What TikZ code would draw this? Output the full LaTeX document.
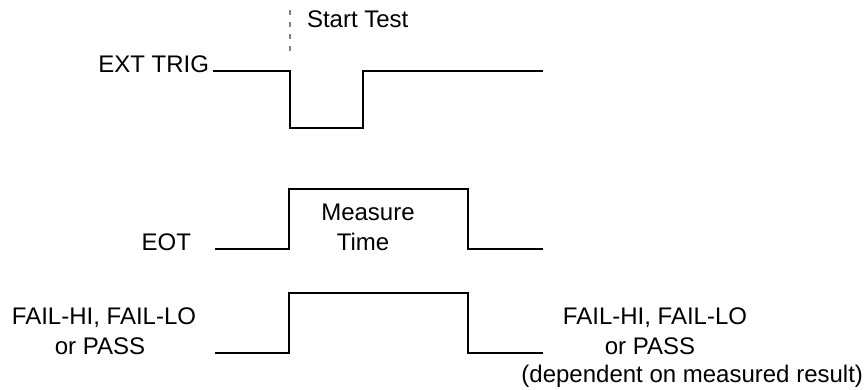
\documentclass[tikz,border=0pt]{standalone}
\usepackage{fontspec}
\setmainfont{Liberation Sans}

\begin{document}
\begin{tikzpicture}[x=1pt,y=-1pt,line width=2pt,
  signal/.style={draw=black,line join=miter},
  marker/.style={draw=gray,line width=1.5pt,dash pattern=on 5pt off 7pt},
  sig label/.style={font=\fontsize{24}{30}\selectfont,inner sep=0pt}]

  \useasboundingbox (0,0) rectangle (867,389);

  % labels
  \node[sig label,anchor=base east] (trig) at (210,72) {EXT TRIG};
  \node[sig label,anchor=base west] (start) at (306,27) {Start Test};
  \node[sig label,anchor=base east] (eot) at (192,250) {EOT};
  \node[sig label,anchor=base] (meas1) at (368,220) {Measure};
  \node[sig label,anchor=base] (meas2) at (363,250) {Time};
  \node[sig label,anchor=base] (res1) at (104,324) {FAIL-HI, FAIL-LO};
  \node[sig label,anchor=base] (res2) at (100,354) {or PASS};
  \node[sig label,anchor=base] (res3) at (655,324) {FAIL-HI, FAIL-LO};
  \node[sig label,anchor=base] (res4) at (650,354) {or PASS};
  \node[sig label,anchor=base east] (res5) at (864,382) {(dependent on measured result)};

  % start marker
  \coordinate (m top) at (290,10);
  \coordinate (m bot) at (290,53);
  \draw[marker] (m top) -- (m bot);

  % EXT TRIG
  \draw[signal] (213,71) -- (290,71) -- (290,128) -- (363,128) -- (363,71) -- (543,71);

  % EOT
  \draw[signal] (215,249) -- (289,249) -- (289,189) -- (468,189) -- (468,249) -- (543,249);

  % result
  \draw[signal] (215,353) -- (289,353) -- (289,293) -- (468,293) -- (468,353) -- (543,353);

\end{tikzpicture}
\end{document}
